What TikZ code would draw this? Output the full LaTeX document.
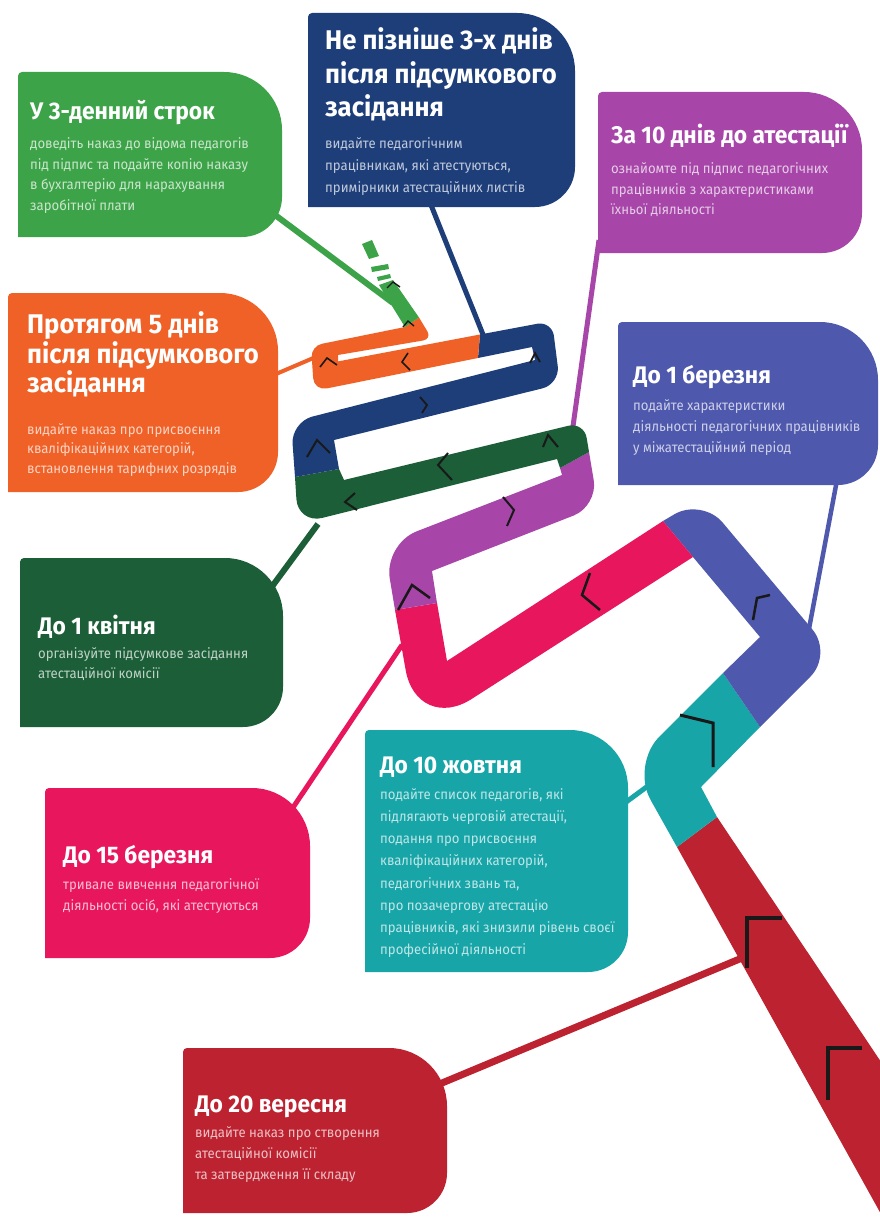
\documentclass[tikz,border=0pt]{standalone}
\usepackage{fontspec}
\setmainfont{Fira Sans}
\newfontfamily\tfont[FakeStretch=0.95]{Fira Sans}
\newfontfamily\bfont[FakeStretch=0.94]{Fira Sans}
\usetikzlibrary{calc}
\definecolor{cgreen}{RGB}{61,163,72}
\definecolor{cnavy}{RGB}{30,62,122}
\definecolor{cpurple}{RGB}{167,70,168}
\definecolor{corange}{RGB}{239,97,39}
\definecolor{cblue}{RGB}{78,88,173}
\definecolor{cdgreen}{RGB}{27,94,55}
\definecolor{cpink}{RGB}{232,23,93}
\definecolor{cteal}{RGB}{23,165,168}
\definecolor{cred}{RGB}{189,34,49}
\colorlet{tgreen}{white!72!cgreen}
\colorlet{tnavy}{white!72!cnavy}
\colorlet{tpurple}{white!72!cpurple}
\colorlet{torange}{white!72!corange}
\colorlet{tblue}{white!72!cblue}
\colorlet{tdgreen}{white!72!cdgreen}
\colorlet{tpink}{white!72!cpink}
\colorlet{tteal}{white!72!cteal}
\colorlet{tred}{white!72!cred}
% rounded corner at #2 between #1 and #3, radius #4 (number, pt)
\newcommand\rc[4]{-- ($(#2)!#4pt!(#1)$) .. controls ($(#2)!0.45*#4pt!(#1)$) and ($(#2)!0.45*#4pt!(#3)$) .. ($(#2)!#4pt!(#3)$)}
\newcommand\tagbox[5]{\fill[#1] (#2,#5) \rc{#2,#5}{#2,#3}{#4,#3}{4} \rc{#2,#3}{#4,#3}{#4,#5}{58} \rc{#4,#3}{#4,#5}{#2,#5}{40} -- cycle;}
\begin{document}
\begin{tikzpicture}[x=1pt,y=-1pt,
  ttl/.style={anchor=base west, inner sep=0pt, text=white, font=\tfont\bfseries\fontsize{24}{28}\selectfont},
  ttlb/.style={anchor=base west, inner sep=0pt, text=white, font=\tfont\bfseries\fontsize{27}{30}\selectfont},
  bdy/.style={anchor=base west, inner sep=0pt, font=\bfont\fontsize{14}{16}\selectfont},
  chev/.style={draw=black!90, line width=2pt, line cap=butt, line join=miter},
  link/.style={line width=5pt, line cap=butt}]
\useasboundingbox (0,0) rectangle (880,1220);
\fill[white] (0,0) rectangle (880,1220);
\begin{scope}
\clip (0,0) rectangle (880,1220);
% connector end points
\coordinate (gA) at (255,200); \coordinate (gB) at (393,303);
\coordinate (nA) at (429,200); \coordinate (nB) at (486,342);
\coordinate (pA) at (599,240); \coordinate (pB) at (568,462);
\coordinate (oA) at (262,380); \coordinate (oB) at (318,356);
\coordinate (bA) at (837,480); \coordinate (bB) at (805,650);
\coordinate (dA) at (268,592); \coordinate (dB) at (318,524);
\coordinate (kA) at (290,812); \coordinate (kB) at (402,645);
\coordinate (tA) at (618,808); \coordinate (tB) at (656,780);
\coordinate (rA) at (430,1088); \coordinate (rB) at (742,958);
\draw[link, line width=6pt, cgreen] (gA) -- (gB);
\draw[link, line width=5pt, cnavy] (nA) -- (nB);
\draw[link, line width=5pt, cpurple] (pA) -- (pB);
\draw[link, line width=4pt, corange] (oA) -- (oB);
\draw[link, line width=4.5pt, cblue] (bA) -- (bB);
\draw[link, line width=6pt, cdgreen] (dA) -- (dB);
\draw[link, line width=5pt, cpink] (kA) -- (kB);
\draw[link, line width=5pt, cteal] (tA) -- (tB);
\draw[link, line width=7pt, cred] (rA) -- (rB);
% boxes
\tagbox{cgreen}{18}{72}{282}{237}
\tagbox{cnavy}{308}{13}{575}{207}
\tagbox{cpurple}{598}{92}{862}{253}
\tagbox{corange}{8}{293}{278}{492}
\tagbox{cblue}{618}{322}{878}{485}
\tagbox{cdgreen}{20}{558}{283}{727}
\tagbox{cpink}{45}{788}{310}{958}
\tagbox{cteal}{365}{730}{628}{972}
\tagbox{cred}{183}{1048}{447}{1213}
% road
\fill[cred] (677,847) -- (901,1250) -- (1007,1250) -- (717,817) -- cycle;
\fill[cteal] (677,847) \rc{677,847}{631,765}{723,673}{40} -- (723,673) -- (760,727) -- (701,787) -- (717,817) -- cycle;
\fill[cblue] (723,673) -- (760,637) -- (693,557) -- (663,521) \rc{663,521}{702,498}{833,654}{32} \rc{702,498}{833,654}{760,727}{32} -- (760,727) -- cycle;
\fill[cpink] (693,557) \rc{693,557}{417,734}{395,610}{65} -- (395,610) -- (437,603) -- (447,661) -- (663,521) -- cycle;
\fill[cpurple] (395,610) \rc{395,610}{384,544}{562,475}{35} -- (562,475) -- (560,468) -- (589,452) \rc{589,452}{598,506}{432,571}{26} -- (432,571) -- (437,603) -- cycle;
\fill[cdgreen] (560,468) -- (557,459) \rc{557,459}{298,524}{295,477}{25} -- (295,477) -- (339,469) -- (344,480) \rc{344,480}{584,422}{589,452}{16} -- (589,452) -- cycle;
\fill[cnavy] (295,477) \rc{295,477}{291,422}{535,360}{22} -- (535,360) -- (532,347) -- (478,358) -- (480,334.5) \rc{480,334.5}{552,321}{560,384}{15} \rc{552,321}{560,384}{334,440}{18} -- (334,440) -- (339,469) -- cycle;
\fill[corange] (478,358) \rc{478,358}{314,391}{311,346}{13} \rc{314,391}{311,346}{405,327}{11} -- (405,327) -- (419,317.5) \rc{419,317.5}{432,339}{338,355}{9} -- (338,355) -- (338,361.4) -- (480,334.5) -- cycle;
\fill[cgreen] (405,327) -- (379,285) -- (393,280) -- (419,317.5) -- cycle;
\fill[cgreen] (362,244) -- (372,240) -- (379,256) -- (369,259) -- cycle;
\fill[cgreen] (371,267) -- (388,264) -- (389,269) -- (372,272) -- cycle;
\fill[cgreen] (377,277) -- (390,274) -- (391,278) -- (378,281) -- cycle;
% chevrons
\draw[chev, line width=3.5pt] (782,918) -- (747,918) -- (747,968);
\draw[chev, line width=3.5pt] (862,1048) -- (828,1048) -- (828,1100);
\draw[chev, line width=3pt] (680,715) -- (713,723) -- (713,767);
\draw[chev, line width=2.5pt] (753,620) -- (757,598) -- (770,595);
\draw[chev, line width=2.5pt] (590,573) -- (582,595) -- (600,610);
\draw[chev, line width=2.5pt] (398,610) -- (412,585) -- (430,598);
\draw[chev] (503,497) -- (514,510) -- (507,526);
\draw[chev] (543,447) -- (548,435) -- (558,447);
\draw[chev] (448,453) -- (438,465) -- (452,480);
\draw[chev] (355,493) -- (345,502) -- (357,510);
\draw[chev] (307,457) -- (317,440) -- (330,453);
\draw[chev, line width=1.8pt] (420,397) -- (427,405) -- (422,413);
\draw[chev, line width=1.8pt] (530,363) -- (535,353) -- (540,362);
\draw[chev, line width=1.6pt] (408,353) -- (402,362) -- (410,370);
\draw[chev, line width=1.6pt] (320,367) -- (327,358) -- (337,365);
\draw[chev, line width=1.4pt] (387,288) -- (393,282) -- (400,287);
\draw[chev, line width=1.4pt] (403,327) -- (408,321) -- (414,326);
% texts: green
\node[ttl] (g0) at (30,120) {У 3-денний строк};
\node[bdy, text=tgreen] (g1) at (30,148) {доведіть наказ до відома педагогів};
\node[bdy, text=tgreen] (g2) at (30,169) {під підпис та подайте копію наказу};
\node[bdy, text=tgreen] (g3) at (30,189) {в бухгалтерію для нарахування};
\node[bdy, text=tgreen] (g4) at (30,210) {заробітної плати};
% navy
\node[ttlb] (n0) at (325,50) {Не пізніше 3-х днів};
\node[ttlb] (n1) at (325,84) {після підсумкового};
\node[ttlb] (n2) at (325,117) {засідання};
\node[bdy, text=tnavy] (n3) at (325,148) {видайте педагогічним};
\node[bdy, text=tnavy] (n4) at (325,170) {працівникам, які атестуються,};
\node[bdy, text=tnavy] (n5) at (325,192) {примірники атестаційних листів};
% purple
\node[ttl] (p0) at (611,143) {За 10 днів до атестації};
\node[bdy, text=tpurple] (p1) at (611,173) {ознайомте під підпис педагогічних};
\node[bdy, text=tpurple] (p2) at (611,194) {працівників з характеристиками};
\node[bdy, text=tpurple] (p3) at (611,214) {їхньої діяльності};
% orange
\node[ttlb] (o0) at (27,333) {Протягом 5 днів};
\node[ttlb] (o1) at (27,363) {після підсумкового};
\node[ttlb] (o2) at (27,392) {засідання};
\node[bdy, text=torange] (o3) at (27,434) {видайте наказ про присвоєння};
\node[bdy, text=torange] (o4) at (27,453) {кваліфікаційних категорій,};
\node[bdy, text=torange] (o5) at (27,473) {встановлення тарифних розрядів};
% blue
\node[ttl] (b0) at (633,383) {До 1 березня};
\node[bdy, text=tblue] (b1) at (633,410) {подайте характеристики};
\node[bdy, text=tblue] (b2) at (633,431) {діяльності педагогічних працівників};
\node[bdy, text=tblue] (b3) at (633,452) {у міжатестаційний період};
% dark green
\node[ttl] (d0) at (38,634) {До 1 квітня};
\node[bdy, text=tdgreen] (d1) at (38,658) {організуйте підсумкове засідання};
\node[bdy, text=tdgreen] (d2) at (38,678) {атестаційної комісії};
% pink
\node[ttl] (k0) at (63,863) {До 15 березня};
\node[bdy, text=tpink] (k1) at (63,889) {тривале вивчення педагогічної};
\node[bdy, text=tpink] (k2) at (63,910) {діяльності осіб, які атестуються};
% teal
\node[ttl] (t0) at (380,773) {До 10 жовтня};
\node[bdy, text=tteal] (t1) at (380,799) {подайте список педагогів, які};
\node[bdy, text=tteal] (t2) at (380,821) {підлягають черговій атестації,};
\node[bdy, text=tteal] (t3) at (380,843) {подання про присвоєння};
\node[bdy, text=tteal] (t4) at (380,865) {кваліфікаційних категорій,};
\node[bdy, text=tteal] (t5) at (380,888) {педагогічних звань та,};
\node[bdy, text=tteal] (t6) at (380,910) {про позачергову атестацію};
\node[bdy, text=tteal] (t7) at (380,932) {працівників, які знизили рівень своєї};
\node[bdy, text=tteal] (t8) at (380,954) {професійної діяльності};
% red
\node[ttl] (r0) at (195,1112) {До 20 вересня};
\node[bdy, text=tred] (r1) at (195,1137) {видайте наказ про створення};
\node[bdy, text=tred] (r2) at (195,1158) {атестаційної комісії};
\node[bdy, text=tred] (r3) at (195,1179) {та затвердження її складу};
\end{scope}
\end{tikzpicture}
\end{document}
